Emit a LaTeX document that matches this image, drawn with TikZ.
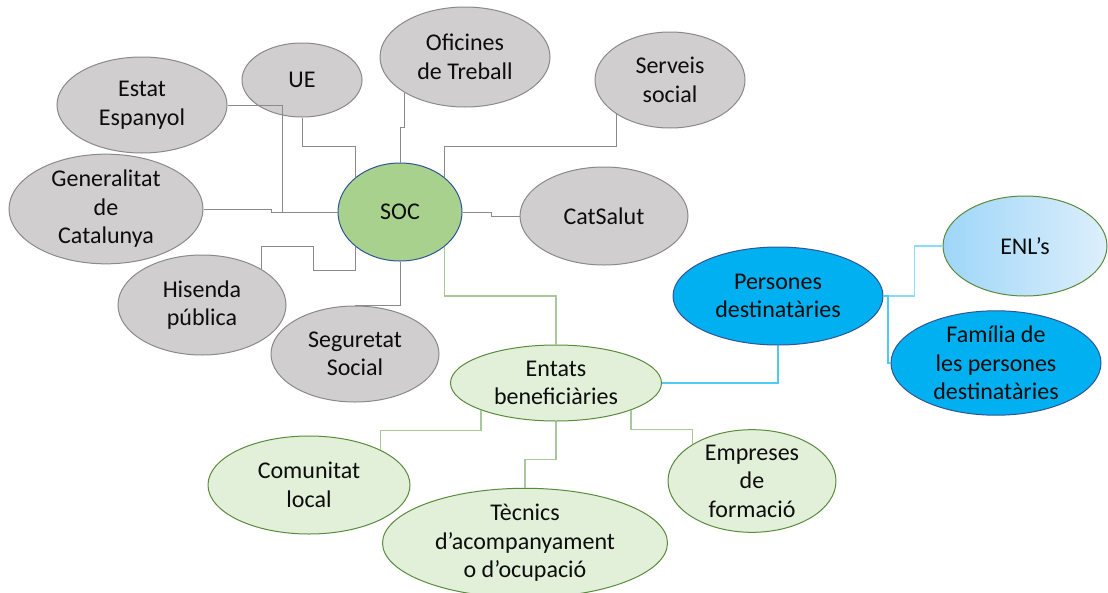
\documentclass[tikz,border=0pt]{standalone}
\usepackage{fontspec}
\setmainfont{Carlito}
\usetikzlibrary{shapes.geometric}
\definecolor{grayfill}{HTML}{D0CECE}
\definecolor{grayline}{HTML}{8A8A8A}
\definecolor{socfill}{HTML}{A9D18E}
\definecolor{darkblue}{HTML}{2F5597}
\definecolor{lgfill}{HTML}{E2F0D9}
\definecolor{lgline}{HTML}{5A8A3C}
\definecolor{lgconn}{HTML}{A9C89A}
\definecolor{cyanfill}{HTML}{00B0F0}
\definecolor{cyanconn}{HTML}{4FCAF5}
\definecolor{enlconn}{HTML}{8ADCF8}
\definecolor{enlleft}{HTML}{9ED6F8}
\definecolor{enlright}{HTML}{DDEFFC}
\tikzset{
  bub/.style={ellipse, inner sep=0pt, align=center, text=black!95,
    font=\fontsize{24}{28.5}\selectfont, line width=1pt},
  graybub/.style={bub, draw=grayline, fill=grayfill},
  socbub/.style={bub, draw=darkblue, fill=socfill},
  greenbub/.style={bub, draw=lgline, fill=lgfill},
  cyanbub/.style={bub, draw=darkblue, fill=cyanfill},
  enlbub/.style={bub, draw=lgline, left color=enlleft, right color=enlright},
  grayconn/.style={draw=grayline, line width=1pt},
  greenconn/.style={draw=lgconn, line width=1.3pt},
  cyanconn/.style={draw=cyanconn, line width=2pt},
  enlconnector/.style={draw=enlconn, line width=1.5pt},
}
\begin{document}
\begin{tikzpicture}[x=1pt,y=-1pt]
\useasboundingbox (0,0) rectangle (1108,592);
% nodes
\node[graybub, minimum width=170, minimum height=96] (estat) at (142,105) {Estat\\Espanyol};
\node[graybub, minimum width=120, minimum height=74] (ue) at (302,80) {UE};
\node[graybub, minimum width=170, minimum height=100] (ofi) at (465,57) {Oficines\\de Treball};
\node[graybub, minimum width=150, minimum height=96] (serv) at (670,80) {Serveis\\social};
\node[graybub, minimum width=194, minimum height=100] (gen) at (106,209) {Generalitat\\de\\Catalunya};
\node[socbub, minimum width=124, minimum height=98] (soc) at (400,212) {SOC};
\node[graybub, minimum width=168, minimum height=98] (cat) at (604,216) {CatSalut};
\node[graybub, minimum width=168, minimum height=100] (his) at (202,305) {Hisenda\\pública};
\node[graybub, minimum width=168, minimum height=96] (seg) at (355,354) {Seguretat\\Social};
\node[greenbub, minimum width=211, minimum height=76] (ent) at (556,383) {Entats\\beneficiàries};
\node[greenbub, minimum width=202, minimum height=98] (com) at (309,485) {Comunitat\\local};
\node[greenbub, minimum width=285, minimum height=94] (tec) at (525,543) {Tècnics\\d’acompanyament\\o d’ocupació};
\node[greenbub, minimum width=168, minimum height=98] (emp) at (752,481) {Empreses\\de\\formació};
\node[cyanbub, minimum width=210, minimum height=98] (per) at (778,296) {Persones\\destinatàries};
\node[enlbub, minimum width=164, minimum height=100] (enl) at (1025,246) {ENL’s};
\node[cyanbub, minimum width=210, minimum height=96] (fam) at (996,363) {Família de\\les persones\\destinatàries};
% gray connectors
\draw[grayconn] (estat.east) -- ++(55,0) |- (soc.west);
\draw[grayconn] (gen.east) -- ++(68,0) -- ++(0,3) -- (soc.west);
\draw[grayconn] (ue.south) -- ++(0,29) -| (soc.north west);
\draw[grayconn] (ofi.south west) -- ++(0,35) -| (soc.north);
\draw[grayconn] (serv.south west) -- ++(0,32) -| (soc.north east);
\draw[grayconn] (soc.east) -- ++(29,0) -- ++(0,4) |- (cat.west);
\draw[grayconn] (his.north east) |- (313,246) -- (313,270) -| (soc.south west);
\draw[grayconn] (soc.south) |- (seg.north);
% green connectors
\draw[greenconn] (soc.south east) -- ++(0,49) -| (ent.north);
\draw[greenconn] (ent.south west) -- ++(0,20) -| (com.north east);
\draw[greenconn] (ent.south) -- ++(0,38) -| (tec.north);
\draw[greenconn] (ent.south east) -- ++(0,19) -| (emp.north west);
% blue connectors
\draw[cyanconn] (ent.east) -| (per.south);
\draw[enlconnector] (per.east) -- ++(31,0) |- (enl.west);
\draw[cyanconn] (per.east) -- ++(4,0) |- (fam.west);
\end{tikzpicture}
\end{document}
